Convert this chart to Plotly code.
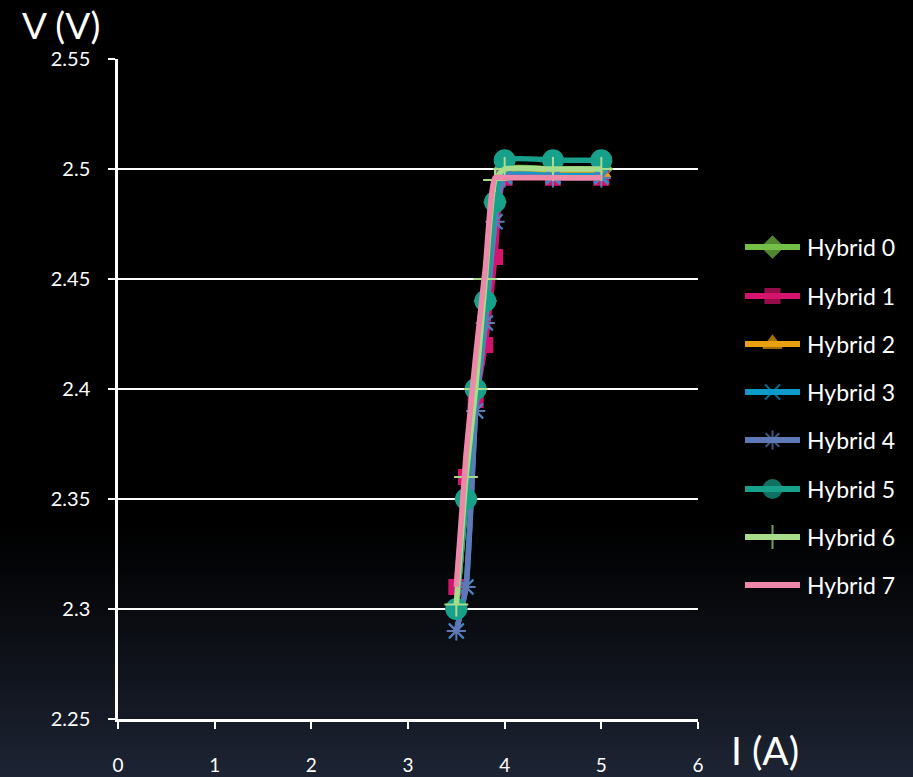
import plotly.graph_objects as go

# Current (A) at each measurement step
current = [3.5, 3.6, 3.7, 3.8, 3.9, 4.0, 4.5, 5.0]

# Terminal voltage (V) for each hybrid
hybrid_0 = [2.300, 2.350, 2.400, 2.440, 2.485, 2.500, 2.500, 2.500]
hybrid_1 = [2.310, 2.360, 2.395, 2.420, 2.460, 2.496, 2.496, 2.496]
hybrid_2 = [2.300, 2.350, 2.400, 2.440, 2.485, 2.498, 2.498, 2.498]
hybrid_3 = [2.290, 2.310, 2.390, 2.430, 2.476, 2.497, 2.497, 2.497]
hybrid_4 = [2.290, 2.310, 2.390, 2.430, 2.476, 2.496, 2.496, 2.496]
hybrid_5 = [2.300, 2.350, 2.400, 2.440, 2.485, 2.504, 2.504, 2.504]
hybrid_6 = [2.302, 2.360, 2.400, 2.450, 2.495, 2.500, 2.500, 2.500]
hybrid_7 = [2.310, 2.370, 2.415, 2.455, 2.496, 2.496, 2.496, 2.496]

names = ["Hybrid 0", "Hybrid 1", "Hybrid 2", "Hybrid 3",
         "Hybrid 4", "Hybrid 5", "Hybrid 6", "Hybrid 7"]
series = [hybrid_0, hybrid_1, hybrid_2, hybrid_3,
          hybrid_4, hybrid_5, hybrid_6, hybrid_7]
colors = ["#74bf45", "#d3136c", "#e8a10f", "#0e9bcc",
          "#5f79b8", "#17a08a", "#a6dc8c", "#ee88a8"]
symbols = ["diamond", "square", "triangle-up", "x-thin-open",
           "asterisk-open", "circle", "cross-thin-open", None]
sizes = [16, 14, 16, 15, 16, 20, 17, 0]

FONT = "Lato, 'Open Sans', sans-serif"
W, H = 913, 777
# plot area edges in pixels
PX0, PX1, PY0, PY1 = 118, 698, 59, 719

fig = go.Figure()

# Data series on the main axes
for name, ys, col, sym, sz in zip(names, series, colors, symbols, sizes):
    marker = dict(color=col, size=sz, line=dict(color=col, width=2))
    if sym is None:
        mode = "lines"
    else:
        mode = "lines+markers"
        marker["symbol"] = sym
    fig.add_trace(go.Scatter(
        x=current, y=ys, name=name, mode=mode,
        line=dict(color=col, width=5.5, shape="spline", smoothing=0.5),
        marker=marker, showlegend=False,
        xaxis="x", yaxis="y",
    ))

# Legend keys drawn on a pixel-space overlay axis
LEG_X0, LEG_X1, LEG_TEXT_X = 745, 800, 805
leg_rows = [247, 296, 344, 392, 440, 489, 537, 585]
annotations = []
for name, col, sym, sz, cy in zip(names, colors, symbols, sizes, leg_rows):
    xm = (LEG_X0 + LEG_X1) / 2
    marker = dict(color=col, line=dict(color=col, width=2))
    if sym is None:
        mode = "lines"
    else:
        mode = "lines+markers"
        marker["symbol"] = sym
        marker["size"] = [0, min(sz, 18), 0]
    fig.add_trace(go.Scatter(
        x=[LEG_X0, xm, LEG_X1], y=[cy, cy, cy], mode=mode,
        line=dict(color=col, width=6), marker=marker,
        showlegend=False, hoverinfo="skip",
        xaxis="x2", yaxis="y2",
    ))
    annotations.append(dict(
        text=name, xref="paper", yref="paper",
        x=LEG_TEXT_X / W, y=1 - cy / H, xanchor="left", yanchor="middle",
        showarrow=False, font=dict(family=FONT, size=23, color="#ffffff"),
    ))

annotations.append(dict(
    text="V (V)", xref="paper", yref="paper",
    x=20 / W, y=1, xanchor="left", yanchor="top",
    showarrow=False, font=dict(family=FONT, size=37, color="#ffffff")))
annotations.append(dict(
    text="I (A)", xref="paper", yref="paper",
    x=729 / W, y=1 - 725 / H, xanchor="left", yanchor="top",
    showarrow=False, font=dict(family=FONT, size=39, color="#ffffff")))

# Black page fading to navy toward the bottom
top_px, bot_px = 520, 777
end_rgb = (29, 36, 52)
shapes = []
step = 3
for py in range(top_px, bot_px + step, step):
    f = (py + step / 2 - top_px) / (bot_px - top_px)
    f = max(0.0, min(1.0, f)) ** 1.15
    rgb = tuple(int(round(c * f)) for c in end_rgb)
    shapes.append(dict(
        type="rect", xref="paper", yref="paper",
        x0=-0.01, x1=1.01, y0=1 - (py + step + 1) / H, y1=1 - py / H,
        fillcolor="rgb(%d,%d,%d)" % rgb, line=dict(width=0), layer="below",
    ))

axis_font = dict(family=FONT, size=20, color="#ffffff")
fig.update_layout(
    width=W, height=H,
    margin=dict(l=0, r=0, t=0, b=0, pad=0),
    paper_bgcolor="#000000",
    plot_bgcolor="rgba(0,0,0,0)",
    font=dict(family=FONT, color="#ffffff", size=18),
    shapes=shapes,
    annotations=annotations,
    showlegend=False,
    xaxis=dict(
        domain=[PX0 / W, PX1 / W], anchor="y",
        range=[0, 6], dtick=1, tick0=0,
        showgrid=False, zeroline=False,
        showline=True, linecolor="#ffffff", linewidth=2.5,
        ticks="outside", ticklen=7, tickwidth=2, tickcolor="#ffffff",
        ticklabelstandoff=20, automargin=False,
        tickfont=dict(family=FONT, size=19, color="#ffffff"),
    ),
    yaxis=dict(
        domain=[1 - PY1 / H, 1 - PY0 / H], anchor="x",
        range=[2.25, 2.55], dtick=0.05, tick0=2.25,
        showgrid=True, gridcolor="#ffffff", gridwidth=2,
        zeroline=False,
        showline=True, linecolor="#ffffff", linewidth=2.5,
        ticks="outside", ticklen=7, tickwidth=2, tickcolor="#ffffff",
        ticklabelstandoff=14, automargin=False,
        tickfont=axis_font,
    ),
    xaxis2=dict(domain=[0, 1], anchor="y2", range=[0, W], visible=False,
                fixedrange=True),
    yaxis2=dict(domain=[0, 1], anchor="x2", range=[H, 0], visible=False,
                fixedrange=True),
)

fig.write_html("out.html")
